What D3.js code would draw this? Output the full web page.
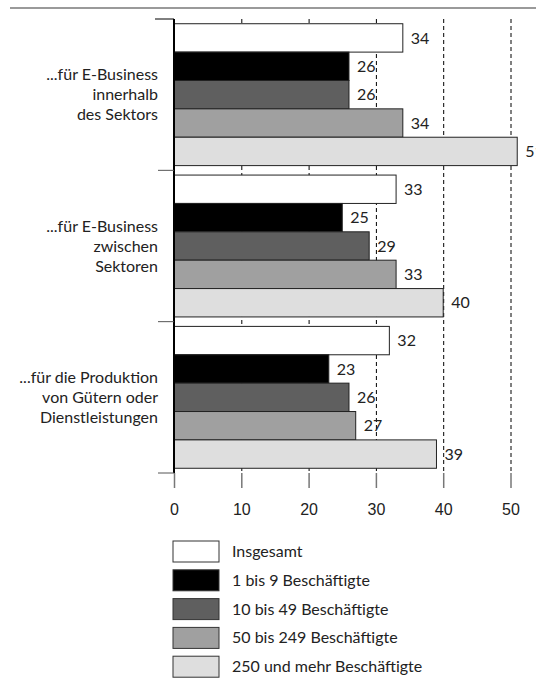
<!DOCTYPE html>
<html>
<head>
<meta charset="utf-8">
<script src="https://cdn.jsdelivr.net/npm/d3@7"></script>
<style>
  body { margin: 0; background: #fff; overflow: hidden; }
  svg { display: block; font-family: Lato, "Open Sans", sans-serif; }
</style>
</head>
<body>
<script>
// Kategorien (Zeilenumbrüche wie im Original)
var categories = [
    ["...für E-Business", "innerhalb", "des Sektors"],
    ["...für E-Business", "zwischen", "Sektoren"],
    ["...für die Produktion", "von Gütern oder", "Dienstleistungen"]
];
var series = ["Insgesamt", "1 bis 9 Beschäftigte", "10 bis 49 Beschäftigte", "50 bis 249 Beschäftigte", "250 und mehr Beschäftigte"];
// Werte je Kategorie, Reihenfolge wie series
var values = [
    [34, 26, 26, 34, 51],
    [33, 25, 29, 33, 40],
    [32, 23, 26, 27, 39]
];
var ticks = [0, 10, 20, 30, 40, 50];
var colors = ["#ffffff", "#000000", "#5f5f5f", "#a0a0a0", "#dedede"];

var width = 536, height = 681;
var padding = { top: 19, left: 174, bottom: 473 };
var fs = 16;

var svg = d3.select("body").append("svg")
    .attr("width", width)
    .attr("height", height);

// obere Linie
svg.append("line")
    .attr("x1", 10).attr("x2", width)
    .attr("y1", 8).attr("y2", 8)
    .attr("stroke", "#9a9a9a").attr("stroke-width", 2);

var xScale = d3.scaleLinear().domain([0, 50]).range([padding.left, 510.5]);
var yScale = d3.scaleBand()
    .domain(d3.range(categories.length))
    .range([padding.top, padding.bottom]);
var inner = d3.scaleBand()
    .domain(d3.range(series.length))
    .range([0, yScale.bandwidth()])
    .paddingOuter(0.1667);

// gestrichelte Gitterlinien
svg.append("g").selectAll("line")
    .data(ticks.slice(1))
    .enter().append("line")
    .attr("x1", d => xScale(d) + 0.5).attr("x2", d => xScale(d) + 0.5)
    .attr("y1", padding.top).attr("y2", padding.bottom)
    .attr("stroke", "#000").attr("stroke-dasharray", "4,3");

// x-Achse (nur Ticks und Beschriftung)
var xAxis = d3.axisBottom(xScale).tickValues(ticks).tickSize(15).tickPadding(16);
var gx = svg.append("g")
    .attr("transform", "translate(0," + padding.bottom + ")")
    .call(xAxis);
gx.select(".domain").remove();
gx.selectAll(".tick line").attr("stroke", "#777").attr("stroke-width", 1.5);
gx.selectAll(".tick text").attr("font-size", fs).attr("fill", "#222").attr("font-family", null);

// Balken
var groups = svg.append("g").selectAll("g")
    .data(values)
    .enter().append("g")
    .attr("transform", (d, i) => "translate(0," + yScale(i) + ")");

groups.selectAll("rect")
    .data(d => d)
    .enter().append("rect")
    .attr("x", xScale(0))
    .attr("y", (d, i) => inner(i))
    .attr("width", d => xScale(d) - xScale(0))
    .attr("height", inner.bandwidth())
    .attr("fill", (d, i) => colors[i])
    .attr("stroke", "#222").attr("stroke-width", 1);

groups.selectAll("text.val")
    .data(d => d)
    .enter().append("text")
    .attr("class", "val")
    .attr("x", d => xScale(d) + 8)
    .attr("y", (d, i) => inner(i) + inner.bandwidth() / 2)
    .attr("dy", "0.35em")
    .attr("font-size", fs).attr("fill", "#222")
    .text(d => d);

// y-Achse mit Trennstrichen
var yAxisG = svg.append("g");
yAxisG.append("line")
    .attr("x1", padding.left).attr("x2", padding.left)
    .attr("y1", padding.top).attr("y2", padding.bottom)
    .attr("stroke", "#000").attr("stroke-width", 2);
var seps = d3.range(categories.length + 1).map(i => i < categories.length ? yScale(i) : padding.bottom);
yAxisG.selectAll("line.sep")
    .data(seps)
    .enter().append("line")
    .attr("class", "sep")
    .attr("x1", (d, i) => i === 0 ? 155 : 158).attr("x2", padding.left)
    .attr("y1", d => d).attr("y2", d => d)
    .attr("stroke", (d, i) => i === 0 ? "#000" : "#555").attr("stroke-width", 1);

// Kategorie-Beschriftungen
svg.append("g").selectAll("text")
    .data(categories)
    .enter().append("text")
    .attr("text-anchor", "end")
    .attr("font-size", fs).attr("fill", "#222")
    .attr("transform", (d, i) => "translate(158," + (yScale(i) + yScale.bandwidth() / 2) + ")")
    .selectAll("tspan")
    .data(d => d)
    .enter().append("tspan")
    .attr("x", 0)
    .attr("y", (d, i, n) => (i - (n.length - 1) / 2) * 20)
    .attr("dy", "0.35em")
    .text(d => d);

// Legende
var legend = svg.append("g").selectAll("g")
    .data(series)
    .enter().append("g")
    .attr("transform", (d, i) => "translate(173," + (541 + i * 28.8) + ")");
legend.append("rect")
    .attr("width", 46).attr("height", 21)
    .attr("fill", (d, i) => colors[i])
    .attr("stroke", "#333");
legend.append("text")
    .attr("x", 59).attr("y", 10.5).attr("dy", "0.35em")
    .attr("font-size", fs).attr("fill", "#222")
    .text(d => d);
</script>
</body>
</html>
